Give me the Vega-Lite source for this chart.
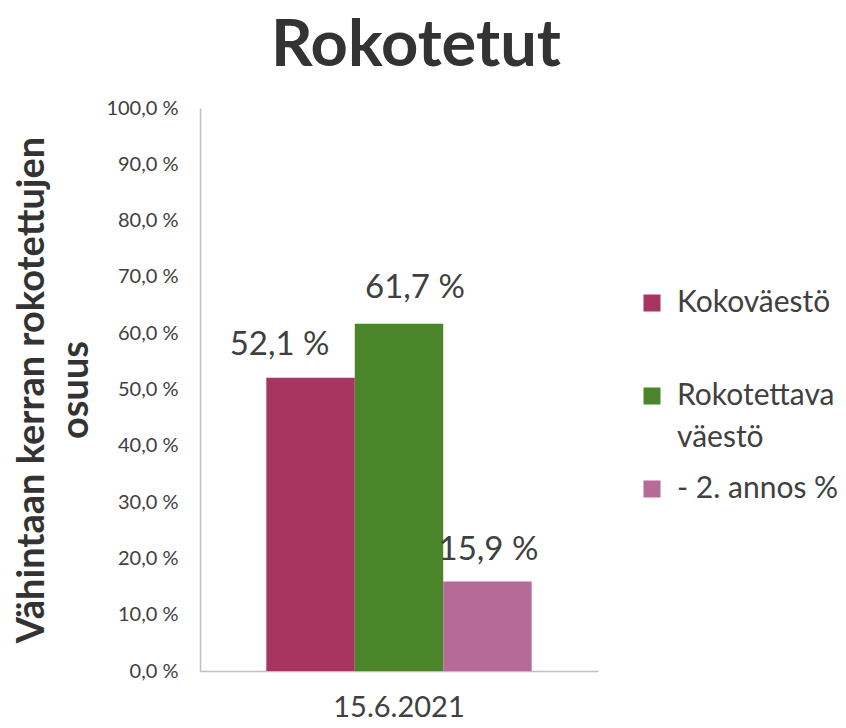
{
  "$schema": "https://vega.github.io/schema/vega-lite/v6.json",
  "width": 398,
  "height": 563,
  "padding": {"left": 13, "top": 14, "right": 5, "bottom": 5},
  "background": "white",
  "title": {"text": "Rokotetut", "font": "Lato", "fontSize": 65, "fontWeight": "bold", "color": "#333333", "anchor": "middle", "dx": 17, "offset": 18},
  "data": {"values": [
    {"date": "15.6.2021", "series": "Kokoväestö", "value": 52.1, "label": "52,1 %"},
    {"date": "15.6.2021", "series": "Rokotettava väestö", "value": 61.7, "label": "61,7 %"},
    {"date": "15.6.2021", "series": "- 2. annos %", "value": 15.9, "label": "15,9 %"}
  ]},
  "encoding": {
    "x": {"field": "date", "type": "nominal", "title": null,
      "scale": {"paddingInner": 0, "paddingOuter": 0.25},
      "axis": {"labelAngle": 0, "labelFont": "Lato", "labelFontSize": 29, "labelColor": "#404040", "labelPadding": 22, "ticks": false, "domainColor": "#bfbfbf", "domainWidth": 1.5}},
    "xOffset": {"field": "series", "type": "nominal", "sort": ["Kokoväestö", "Rokotettava väestö", "- 2. annos %"], "scale": {"paddingInner": 0, "paddingOuter": 0}},
    "y": {"field": "value", "type": "quantitative",
      "scale": {"domain": [0, 100]},
      "axis": {"values": [0,10,20,30,40,50,60,70,80,90,100], "labelExpr": "replace(format(datum.value, '.1f'), '.', ',') + ' %'",
        "labelFont": "Lato", "labelFontSize": 20, "labelColor": "#404040", "labelPadding": 22, "ticks": false, "grid": false,
        "domainColor": "#bfbfbf", "domainWidth": 1.5,
        "title": ["Vähintaan kerran rokotettujen", "osuus"], "titleFont": "Lato", "titleFontSize": 38, "titleFontWeight": "bold", "titleColor": "#333333", "titlePadding": 10, "titleLineHeight": 44}}
  },
  "layer": [
    {"mark": {"type": "bar"},
     "encoding": {"color": {"field": "series", "type": "nominal", "sort": ["Kokoväestö", "Rokotettava väestö", "- 2. annos %"],
        "scale": {"domain": ["Kokoväestö", "Rokotettava väestö", "- 2. annos %"], "range": ["#A83560", "#4A8629", "#B56A98"]},
        "legend": {"title": null, "orient": "none", "legendX": 437, "legendY": 180, "symbolType": "square", "symbolSize": 289, "symbolStrokeWidth": 0,
          "labelFont": "Lato", "labelFontSize": 30, "labelColor": "#404040", "labelOffset": 10, "labelLimit": 300, "rowPadding": 21,
          "labelExpr": "datum.label == 'Rokotettava väestö' ? ['Rokotettava', 'väestö'] : datum.label == 'Kokoväestö' ? ['Kokoväestö', ' '] : datum.label",
          "encode": {"labels": {"update": {"lineHeight": {"value": 42}}}}}}}},
    {"transform": [{"filter": "datum.series == 'Kokoväestö'"}],
     "mark": {"type": "text", "baseline": "bottom", "dy": -16, "dx": -31, "font": "Lato", "fontSize": 33, "color": "#404040"},
     "encoding": {"text": {"field": "label"}}},
    {"transform": [{"filter": "datum.series == 'Rokotettava väestö'"}],
     "mark": {"type": "text", "baseline": "bottom", "dy": -19, "dx": 16, "font": "Lato", "fontSize": 33, "color": "#404040"},
     "encoding": {"text": {"field": "label"}}},
    {"transform": [{"filter": "datum.series == '- 2. annos %'"}],
     "mark": {"type": "text", "baseline": "bottom", "dy": -14, "dx": 1, "font": "Lato", "fontSize": 33, "color": "#404040"},
     "encoding": {"text": {"field": "label"}}}
  ],
  "config": {"view": {"stroke": null}}
}
